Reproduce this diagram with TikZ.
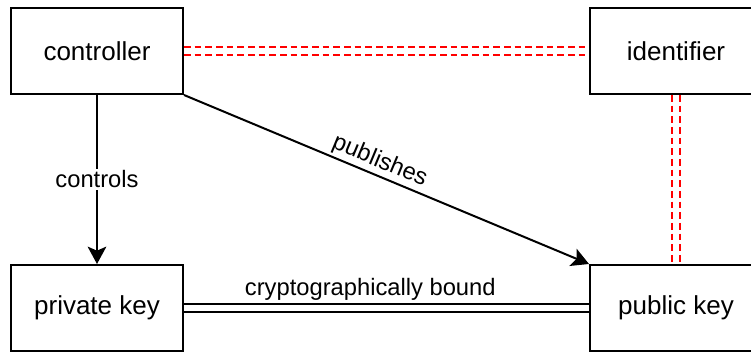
\documentclass[tikz,border=0pt]{standalone}
\usepackage{fontspec}
\setmainfont{Liberation Sans}
\usetikzlibrary{arrows.meta}
\begin{document}
\begin{tikzpicture}[x=0.75pt, y=-0.75pt,
  box/.style={draw, line width=1.5pt, minimum width=129pt, minimum height=64.5pt,
    inner sep=0pt, font=\fontsize{19.5}{23}\selectfont},
  lbl/.style={font=\fontsize{17.8}{21}\selectfont, inner sep=1.5pt},
  link/.style={line width=1.5pt, -{Stealth[length=13pt, width=14pt, inset=3pt]}},
  reddash/.style={red, line width=1.5pt, dash pattern=on 5pt off 3pt},
  bound/.style={double, double distance=4pt, line width=1.4pt}
]
\clip (0,0) rectangle (751,352);

% the four entities
\node[box] (ctrl)  at (97,51)  {controller};
\node[box] (ident) at (676,51) {identifier};
\node[box] (priv)  at (97,308) {private key};
\node[box] (pub)   at (676,308) {public key};

% red dashed double links
\draw[reddash] ([yshift=3pt]ctrl.east) -- ([yshift=3pt]ident.west);
\draw[reddash] ([yshift=-3pt]ctrl.east) -- ([yshift=-3pt]ident.west);
\draw[reddash] ([xshift=-3pt]ident.south) -- ([xshift=-3pt]pub.north);
\draw[reddash] ([xshift=3pt]ident.south) -- ([xshift=3pt]pub.north);

% arrows
\draw[link] (ctrl.south) -- node[lbl, fill=white] {controls} (priv.north);
\draw[link] (ctrl.south east) -- node[lbl, sloped, above=0pt, pos=0.47] {publishes} (pub.north west);

% key pair binding
\draw[bound] (priv.east) -- node[lbl, above=3.5pt, pos=0.46] {cryptographically bound} (pub.west);
\end{tikzpicture}
\end{document}
